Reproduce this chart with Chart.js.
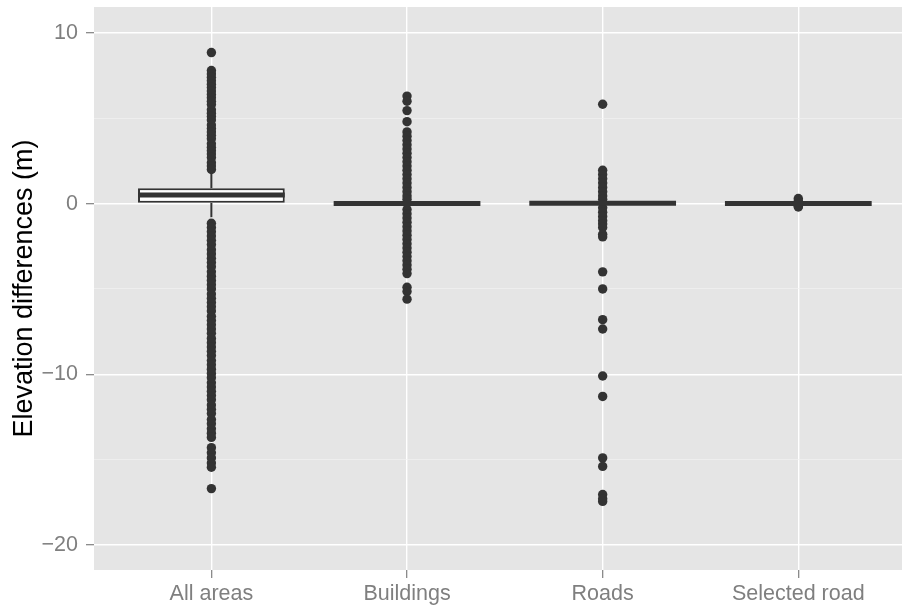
<!DOCTYPE html>
<html>
<head>
<meta charset="utf-8">
<script src="https://cdn.jsdelivr.net/npm/chart.js@4.4.1/dist/chart.umd.min.js"></script>
<style>
  html, body { margin: 0; padding: 0; background: #ffffff; }
  canvas { display: block; }
</style>
</head>
<body>
<canvas id="elevationChart" width="902" height="608"></canvas>
<script>
const categories = ['All areas', 'Buildings', 'Roads', 'Selected road'];

// box statistics per category (m)
const lowerWhisker = [-0.8, -0.01, 0, -0.01];
const q1 = [0.05, -0.01, 0, -0.01];
const median = [0.5, 0, 0.02, 0];
const q3 = [0.9, 0.02, 0.03, 0.01];
const upperWhisker = [1.8, 0.02, 0.03, 0.01];

// outliers per category (m)
const allAreasOutliers = [
  8.85, 7.8, 7.6, 7.4, 7.2, 7.0, 6.8, 6.6, 6.4, 6.2, 6.0, 5.8, 5.5, 5.3, 5.1,
  4.9, 4.6, 4.4, 4.2, 4.0, 3.8, 3.5, 3.3, 3.1, 2.9, 2.7, 2.4, 2.2, 2.0,
  -1.15, -1.4, -1.65, -1.9, -2.15, -2.4, -2.7, -2.95, -3.2, -3.45, -3.7, -4.0,
  -4.25, -4.5, -4.75, -5.0, -5.3, -5.55, -5.8, -6.05, -6.3, -6.6, -6.85, -7.1,
  -7.35, -7.6, -7.9, -8.15, -8.4, -8.65, -8.9, -9.2, -9.45, -9.7, -9.95, -10.2,
  -10.5, -10.75, -11.0, -11.25, -11.5, -11.8, -12.05, -12.3, -12.65, -12.9,
  -13.2, -13.45, -13.7, -14.3, -14.6, -14.9, -15.2, -15.45, -16.7
];
const buildingsOutliers = [
  6.3, 6.0, 5.45, 4.8, 4.2, 3.95, 3.7, 3.45, 3.2, 2.95, 2.7, 2.45, 2.2, 1.95,
  1.7, 1.45, 1.2, 0.95, 0.7, 0.45, 0.25,
  -0.35, -0.6, -0.85, -1.1, -1.35, -1.6, -1.85, -2.1, -2.35, -2.6, -2.85, -3.1,
  -3.35, -3.6, -3.85, -4.1, -4.9, -5.15, -5.6
];
const roadsOutliers = [
  5.82, 1.95, 1.7, 1.45, 1.2, 0.95, 0.7, 0.45, 0.25, -0.25, -0.5, -0.75, -1.0,
  -1.2, -1.4, -1.8, -1.95, -4.0, -5.0, -6.8, -7.35, -10.1, -11.3, -14.9, -15.4,
  -17.05, -17.3, -17.45
];
const selectedRoadOutliers = [0.3, 0.15, 0.05, -0.05, -0.15, -0.2];
const outliers = [allAreasOutliers, buildingsOutliers, roadsOutliers, selectedRoadOutliers];

// y axis ticks
const yMajorTicks = [-20, -10, 0, 10];
const yTickLabels = ['\u221220', '\u221210', '0', '10'];
const yMinorTicks = [-15, -5, 5];

const ink = '#333333';
const boxHalf = 0.375;
const labelFont = { family: '"Liberation Sans", Arial, sans-serif', size: 21.5 };

const boxData = categories.map((c, i) => ({ x: i + 1, y: [q1[i], q3[i]] }));
const medianData = [];
const whiskerData = [];
categories.forEach((c, i) => {
  medianData.push({ x: i + 1 - boxHalf, y: median[i] }, { x: i + 1 + boxHalf, y: median[i] }, { x: i + 1, y: null });
  whiskerData.push({ x: i + 1, y: q3[i] }, { x: i + 1, y: upperWhisker[i] }, { x: i + 1, y: null });
  whiskerData.push({ x: i + 1, y: q1[i] }, { x: i + 1, y: lowerWhisker[i] }, { x: i + 1, y: null });
});
const outlierData = [];
outliers.forEach((list, i) => list.forEach((v) => outlierData.push({ x: i + 1, y: v })));

const panelBackground = {
  id: 'panelBackground',
  beforeDraw(chart) {
    const { ctx, chartArea: a } = chart;
    ctx.save();
    ctx.fillStyle = '#e5e5e5';
    ctx.fillRect(a.left, a.top, a.right - a.left, a.bottom - a.top);
    ctx.restore();
  }
};

const noPadding = (scale) => {
  scale.paddingTop = 0;
  scale.paddingBottom = 0;
  scale.paddingLeft = 0;
  scale.paddingRight = 0;
};

const isMajor = (v) => yMajorTicks.includes(v);

new Chart(document.querySelector('#elevationChart'), {
  type: 'bar',
  data: {
    datasets: [
      {
        type: 'line',
        data: medianData,
        borderColor: ink,
        borderWidth: 5,
        borderCapStyle: 'butt',
        pointRadius: 0,
        spanGaps: false,
        order: 0
      },
      {
        type: 'bar',
        data: boxData,
        backgroundColor: '#ffffff',
        borderColor: ink,
        borderWidth: 2,
        borderSkipped: false,
        barPercentage: 0.75,
        categoryPercentage: 1,
        order: 1
      },
      {
        type: 'line',
        data: whiskerData,
        borderColor: ink,
        borderWidth: 2,
        pointRadius: 0,
        spanGaps: false,
        order: 2
      },
      {
        type: 'scatter',
        data: outlierData,
        backgroundColor: ink,
        borderWidth: 0,
        pointRadius: 4.7,
        order: 3
      }
    ]
  },
  options: {
    responsive: false,
    animation: false,
    devicePixelRatio: 1,
    layout: { autoPadding: false, padding: { top: 7, right: 0, left: 0, bottom: 0 } },
    plugins: {
      legend: { display: false },
      tooltip: { enabled: false }
    },
    scales: {
      x: {
        type: 'linear',
        min: 0.4,
        max: 4.53,
        offset: false,
        afterBuildTicks: (scale) => {
          scale.ticks = categories.map((c, i) => ({ value: i + 1 }));
        },
        afterFit: (scale) => {
          scale.height = 38;
          noPadding(scale);
        },
        border: { display: false },
        grid: {
          offset: false,
          color: '#ffffff',
          lineWidth: 1.4,
          tickLength: 8,
          tickColor: '#7f7f7f',
          tickWidth: 1.2
        },
        ticks: {
          autoSkip: false,
          maxRotation: 0,
          padding: 3,
          color: '#7f7f7f',
          font: labelFont,
          callback: (v) => categories[v - 1] || ''
        }
      },
      y: {
        type: 'linear',
        min: -21.47,
        max: 11.52,
        afterBuildTicks: (scale) => {
          scale.ticks = yMajorTicks.concat(yMinorTicks).sort((a, b) => a - b).map((v) => ({ value: v }));
        },
        afterFit: (scale) => {
          scale.width = 94;
          noPadding(scale);
        },
        border: { display: false },
        grid: {
          color: (ctx) => (isMajor(ctx.tick.value) ? '#ffffff' : '#f2f2f2'),
          lineWidth: (ctx) => (isMajor(ctx.tick.value) ? 1.4 : 0.7),
          tickLength: 8,
          tickColor: (ctx) => (isMajor(ctx.tick.value) ? '#7f7f7f' : 'rgba(0,0,0,0)'),
          tickWidth: 1.2
        },
        ticks: {
          autoSkip: false,
          padding: 8,
          color: '#7f7f7f',
          font: labelFont,
          callback: (v) => {
            const k = yMajorTicks.indexOf(v);
            return k >= 0 ? yTickLabels[k] : '';
          }
        },
        title: {
          display: true,
          text: 'Elevation differences (m)',
          color: '#000000',
          padding: { top: 8, bottom: 0 },
          font: { family: '"Liberation Sans", Arial, sans-serif', size: 27 }
        }
      }
    }
  },
  plugins: [panelBackground]
});
</script>
</body>
</html>
